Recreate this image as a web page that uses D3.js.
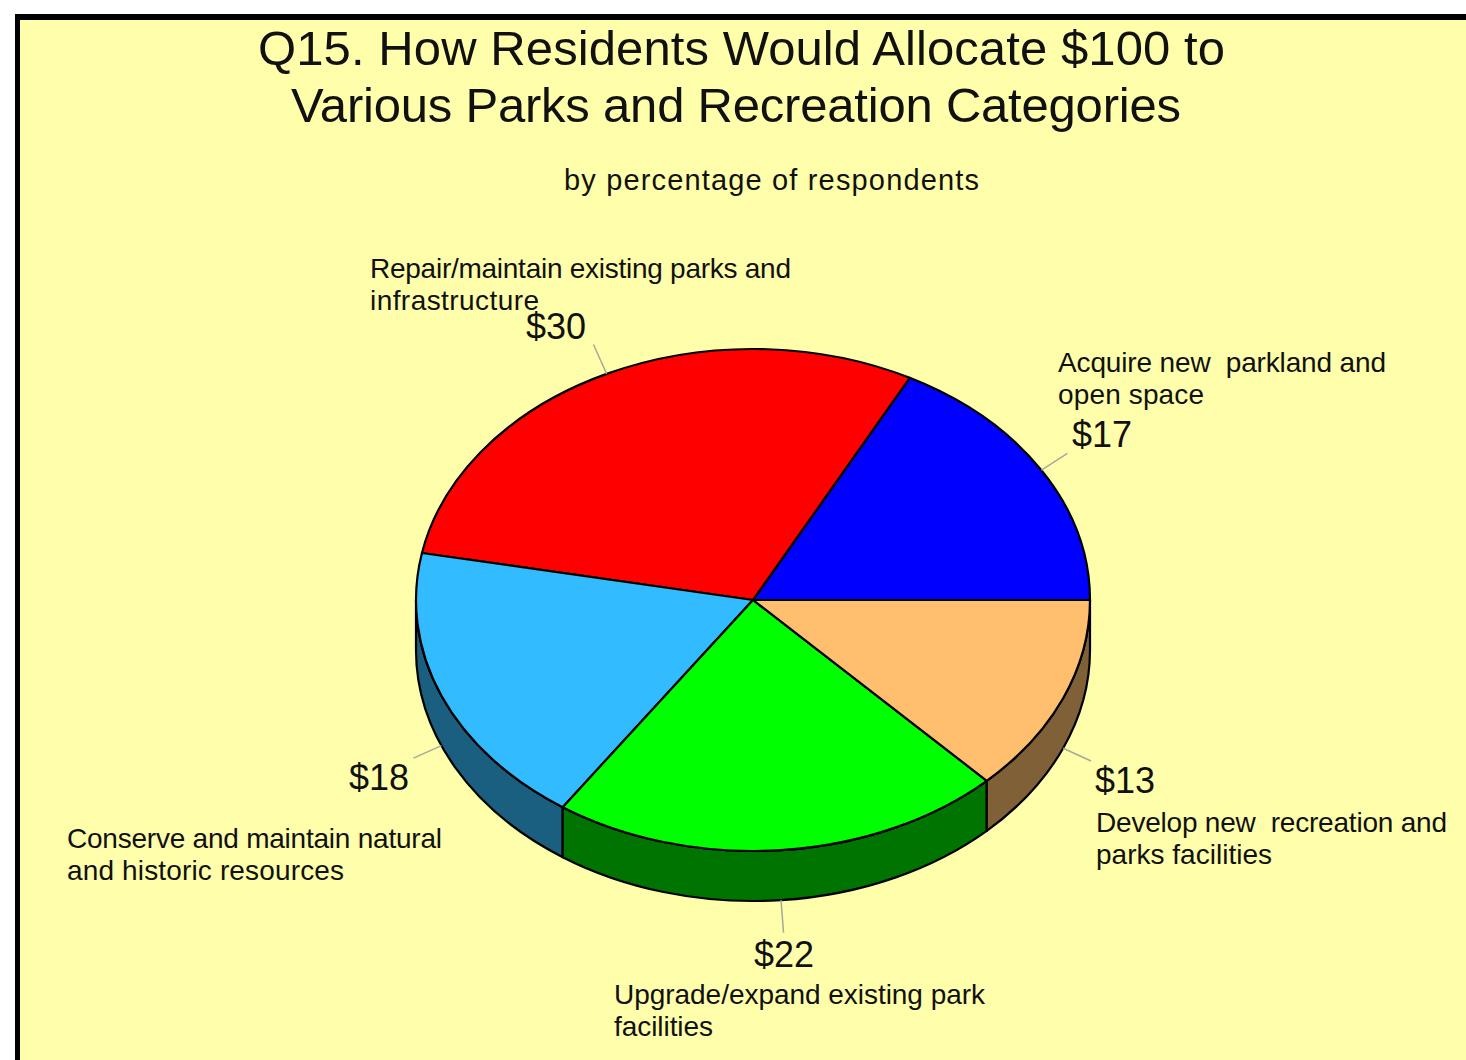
<!DOCTYPE html>
<html>
<head>
<meta charset="utf-8">
<script src="https://cdn.jsdelivr.net/npm/d3@7"></script>
<style>
    html, body { margin: 0; padding: 0; background: #fff; overflow: hidden; }
    text { font-family: "Liberation Sans", Arial, sans-serif; fill: #111; }
</style>
</head>
<body>
<div id="chart"></div>
<script>
// Chart data (slice sizes, labels show them rounded)
const titleLines = ['Q15. How Residents Would Allocate $100 to', 'Various Parks and Recreation Categories'];
const subtitle = 'by percentage of respondents';
const categories = [
    ['Acquire new  parkland and', 'open space'],
    ['Repair/maintain existing parks and', 'infrastructure'],
    ['Conserve and maintain natural', 'and historic resources'],
    ['Upgrade/expand existing park', 'facilities'],
    ['Develop new  recreation and', 'parks facilities']
];
const values = [17.3, 29.7, 18.45, 21.75, 12.8];
const topColors = ['#0000ff', '#ff0000', '#33bbff', '#00ff00', '#ffbf6e'];
const wallColors = ['#00007f', '#7f0000', '#1a5e80', '#007400', '#806037'];

// Layout only: [value x, value baseline, label x, label baseline] per slice
const labelLayout = [
    [1072, 447, 1058, 372],
    [526, 339, 370, 278],
    [349, 790, 67, 848],
    [754, 967, 614, 1004],
    [1095, 793, 1096, 832]
];
// Layout only: measured width of each category line
const labelWidths = [[328, 146], [421, 169], [375, 277], [371, 99], [351, 176]];
const titleWidths = [967, 890];

const width = 1466, height = 1060;
const cx = 753, cy = 600, rx = 337, ry = 251, depth = 50;

const svg = d3.select('#chart')
    .append('svg')
    .attr('width', width)
    .attr('height', height)
    .attr('viewBox', [0, 0, width, height])
    .style('display', 'block');

// Panel with the black frame on the top and left only
svg.append('rect')
    .attr('x', 15).attr('y', 14)
    .attr('width', width - 15).attr('height', height - 14)
    .attr('fill', '#000');
svg.append('rect')
    .attr('x', 20).attr('y', 20)
    .attr('width', width - 20).attr('height', height - 20)
    .attr('fill', '#ffffab');

// Titles
svg.selectAll('.title')
    .data(titleLines)
    .join('text')
    .attr('class', 'title')
    .attr('x', (d, i) => i === 0 ? 258 : 291)
    .attr('y', (d, i) => 65 + i * 57)
    .attr('textLength', (d, i) => titleWidths[i])
    .attr('lengthAdjust', 'spacing')
    .style('font-size', '49px')
    .text(d => d);

svg.append('text')
    .attr('x', 564)
    .attr('y', 190)
    .attr('textLength', 415)
    .attr('lengthAdjust', 'spacing')
    .style('font-size', '29px')
    .text(subtitle);

// Slices go counterclockwise from 3 o'clock
const pie = d3.pie()
    .sort(null)
    .value(d => d)
    .startAngle(Math.PI / 2)
    .endAngle(Math.PI / 2 - 2 * Math.PI);
const arcs = pie(values);

const arc = d3.arc().innerRadius(0).outerRadius(rx);

// Point on the ellipse for a d3 pie angle (0 = 12 o'clock, clockwise)
const px = (a, k = 1) => cx + rx * k * Math.sin(a);
const py = (a, k = 1) => cy - ry * k * Math.cos(a);
const frontOf = a => Math.cos(a) < 0;

// Side walls: only the part of a slice below the horizontal axis is visible
function wallPath(d) {
    const s = Math.max(d.endAngle, -3 * Math.PI / 2);
    const e = Math.min(d.startAngle, -Math.PI / 2);
    if (e <= s) return null;
    return `M${px(s)},${py(s)}`
        + `A${rx},${ry} 0 0 1 ${px(e)},${py(e)}`
        + `L${px(e)},${py(e) + depth}`
        + `A${rx},${ry} 0 0 0 ${px(s)},${py(s) + depth}Z`;
}

svg.append('g')
    .selectAll('path')
    .data(arcs)
    .join('path')
    .attr('d', wallPath)
    .attr('fill', (d, i) => wallColors[i])
    .attr('stroke', '#000')
    .attr('stroke-width', 2.2)
    .attr('stroke-linejoin', 'round');

svg.append('g')
    .attr('transform', `translate(${cx},${cy}) scale(1,${ry / rx})`)
    .selectAll('path')
    .data(arcs)
    .join('path')
    .attr('d', arc)
    .attr('fill', (d, i) => topColors[i])
    .attr('stroke', '#000')
    .attr('stroke-width', 2.2)
    .attr('stroke-linejoin', 'round')
    .attr('vector-effect', 'non-scaling-stroke');

// Leader lines
const midAngle = d => (d.startAngle + d.endAngle) / 2;
svg.append('g')
    .selectAll('line')
    .data(arcs)
    .join('line')
    .attr('x1', d => px(midAngle(d)))
    .attr('y1', d => py(midAngle(d)) + (frontOf(midAngle(d)) ? depth : 0))
    .attr('x2', d => px(midAngle(d), 1.09))
    .attr('y2', d => py(midAngle(d), 1.13) + (frontOf(midAngle(d)) ? depth : 0))
    .attr('stroke', '#a8a89a')
    .attr('stroke-width', 1.5);

// Value labels
svg.selectAll('.value')
    .data(values)
    .join('text')
    .attr('class', 'value')
    .attr('x', (d, i) => labelLayout[i][0])
    .attr('y', (d, i) => labelLayout[i][1])
    .style('font-size', '36px')
    .text(d => `$${Math.round(d)}`);

// Category labels
categories.forEach((lines, i) => {
    svg.selectAll(`.cat${i}`)
        .data(lines)
        .join('text')
        .attr('class', `cat${i}`)
        .attr('x', labelLayout[i][2])
        .attr('y', (d, j) => labelLayout[i][3] + j * 32)
        .attr('textLength', (d, j) => labelWidths[i][j])
        .attr('lengthAdjust', 'spacing')
        .style('white-space', 'pre')
        .style('font-size', '28px')
        .text(d => d);
});
</script>
</body>
</html>
